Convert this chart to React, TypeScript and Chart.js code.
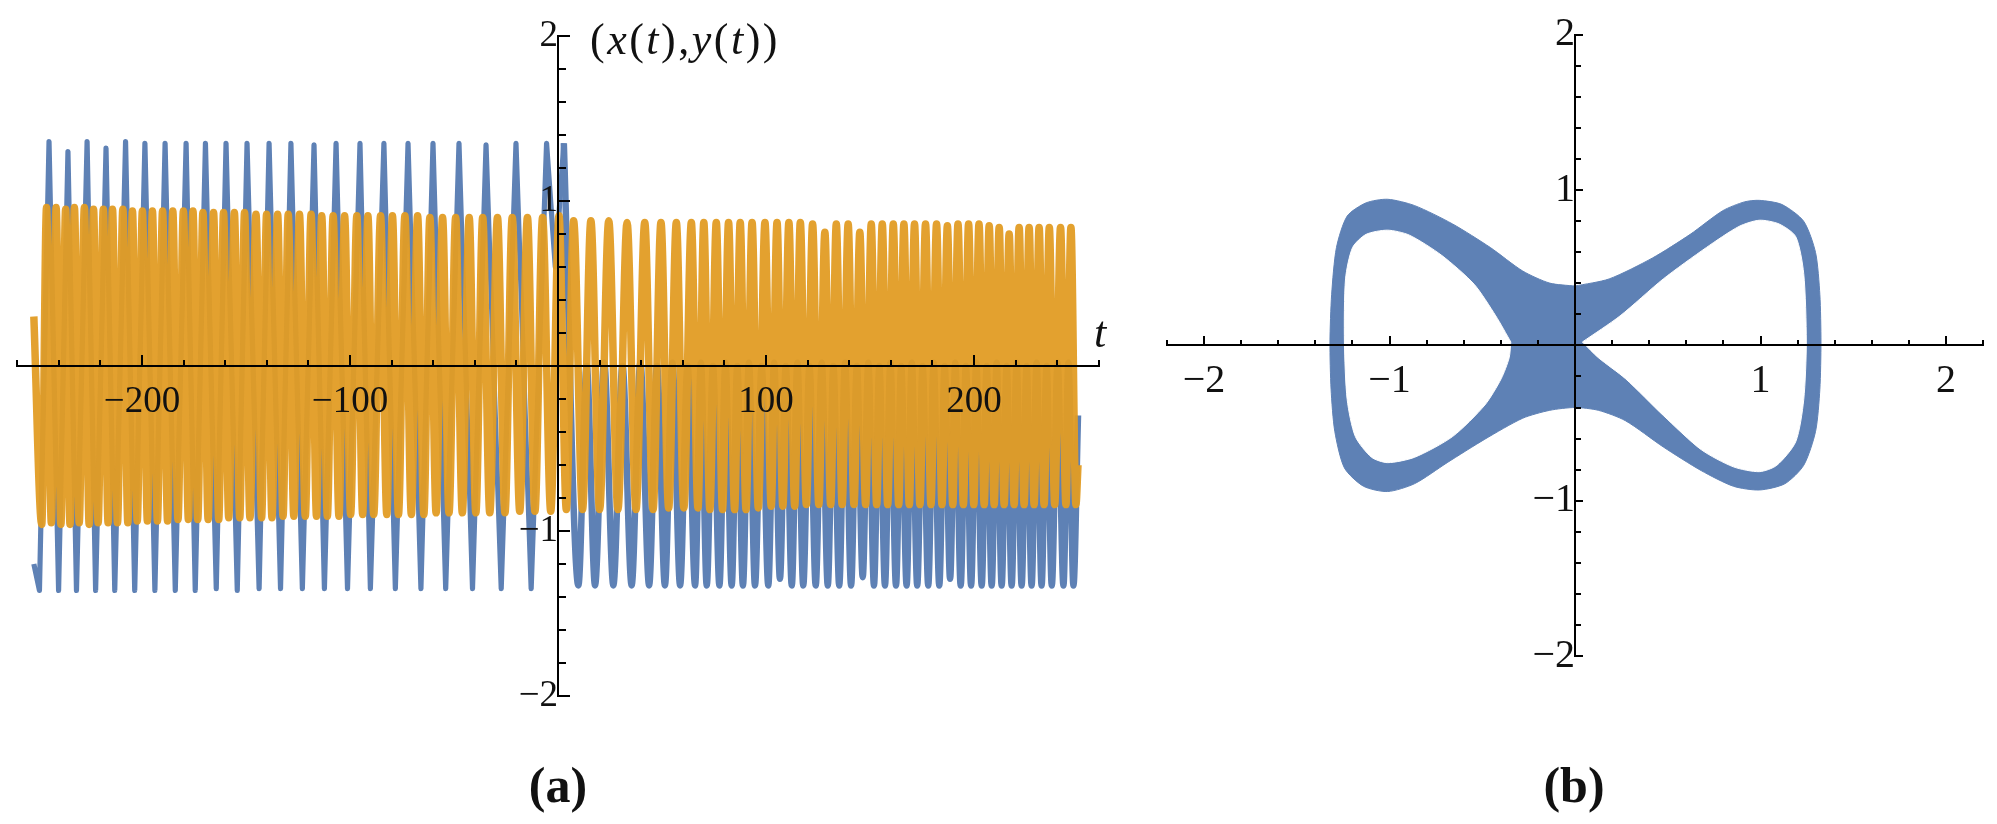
import React, { useEffect, useRef } from 'react';
import { Chart, registerables } from 'chart.js';

Chart.register(...registerables);

const BLUE = '#5e81b5';
const ORANGE = 'rgba(225, 156, 36, 0.95)';
const INK = '#111111';
const FONT = "'Liberation Serif', 'Times New Roman', serif";

// ---------------- Panel (a): x(t) (blue) extremes ----------------
const xNegT = [-252, -249.3, -244.7, -240.1, -235.6, -231.5, -226.4, -222.3, -217.3, -213.1, -207.9,
  -203.5, -198.6, -193.8, -188.9, -184.0, -178.8, -174.4, -169.5, -164.3, -159.6,
  -154.2, -149.5, -143.7, -138.9, -133.4, -128.4, -122.9, -117.3, -112.3, -106.7,
  -101.2, -95.2, -90.2, -83.7, -78.2, -72.1, -65.9, -60.1, -54.0, -47.6,
  -41.1, -34.6, -27.3, -20.2, -12.9, -5.5, -1.3, 2.8];
const xNegV = [-1.20, -1.36, 1.36, -1.36, 1.30, -1.36, 1.36, -1.36, 1.32, -1.36, 1.36,
  -1.36, 1.35, -1.36, 1.35, -1.36, 1.35, -1.36, 1.35, -1.35, 1.35,
  -1.36, 1.35, -1.35, 1.35, -1.35, 1.35, -1.35, 1.34, -1.35, 1.35,
  -1.35, 1.35, -1.35, 1.35, -1.35, 1.35, -1.35, 1.35, -1.35, 1.35,
  -1.35, 1.34, -1.35, 1.35, -1.35, 1.35, 0.60, 1.35];
const xPosT = [9.8, 13.8, 17.8, 22.2, 26.6, 31.0, 35.4, 39.6, 43.8, 47.6,
  51.4, 55.0, 58.7, 62.3, 65.9, 68.7, 71.5, 74.5, 77.6, 80.5,
  83.5, 86.2, 88.9, 91.8, 94.7, 97.9, 101.1, 103.9, 106.7, 109.5,
  112.4, 115.1, 117.9, 120.9, 123.9, 126.8, 129.7, 132.4, 135.2, 138.0,
  140.9, 143.7, 146.5, 149.2, 151.9, 154.5, 157.2, 159.8, 162.5, 165.0,
  167.6, 170.1, 172.7, 175.3, 178.0, 180.6, 183.3, 185.9, 188.5, 191.0,
  193.6, 196.1, 198.6, 201.1, 203.7, 206.1, 208.5, 210.9, 213.3, 215.7,
  218.1, 220.5, 222.9, 225.3, 227.7, 230.1, 232.5, 234.9, 237.4, 240.2,
  243.0, 245.4, 247.8, 250.0];
const xPosV = [-1.33, 0.0, -1.33, 0.02, -1.33, 0.0, -1.33, 0.02, -1.33, 0.0,
  -1.33, 0.02, -1.33, 0.0, -1.33, 0.02, -1.33, 0.0, -1.33, 0.02,
  -1.33, 0.0, -1.33, 0.02, -1.33, 0.0, -1.33, 0.02, -1.29, 0.0,
  -1.33, 0.02, -1.33, 0.0, -1.33, 0.02, -1.33, 0.0, -1.33, 0.02,
  -1.33, 0.0, -1.28, 0.02, -1.33, 0.0, -1.33, 0.02, -1.33, 0.0,
  -1.33, 0.02, -1.33, 0.0, -1.33, 0.02, -1.33, 0.0, -1.29, 0.02,
  -1.33, 0.0, -1.33, 0.02, -1.33, 0.0, -1.33, 0.02, -1.33, 0.0,
  -1.33, 0.02, -1.33, 0.0, -1.33, 0.02, -1.33, 0.0, -1.33, 0.02,
  -1.33, 0.02, -1.33, -0.30];

// ---------------- Panel (a): y(t) (orange) extremes ----------------
const yNegT = [-252,
  -248.2, -245.9, -243.6, -241.3, -239.0, -236.7, -234.6, -232.5, -230.2, -227.7,
  -225.4, -223.3, -221.1, -218.6, -216.3, -214.2, -211.8, -209.2, -206.8, -204.6,
  -202.3, -199.8, -197.4, -195.0, -192.6, -190.1, -187.7, -185.2, -182.7, -180.1,
  -177.7, -175.5, -173.2, -170.7, -168.2, -165.6, -163.1, -160.8, -158.3, -155.6,
  -153.0, -150.7, -148.1, -145.2, -142.5, -140.1, -137.5, -134.8, -132.2, -129.7,
  -127.0, -124.3, -121.5, -118.7, -116.1, -113.6, -110.9, -108.1, -105.3, -102.6,
  -99.7, -96.7, -93.9, -91.4, -88.6, -85.3, -82.3, -79.6, -76.7, -73.6,
  -70.5, -67.5, -64.5, -61.6, -58.6, -55.5, -52.4, -49.2, -46.0, -42.7,
  -39.5, -36.2, -32.8, -29.1, -25.5, -22.0, -18.4, -14.7, -11.1, -7.4,
  -3.5, 0.5, 4.0];
const yNegV = [0.30,
  -0.96, 0.96, -0.95, 0.96, -0.96, 0.95, -0.96, 0.96, -0.95, 0.96,
  -0.96, 0.95, -0.95, 0.95, -0.95, 0.95, -0.95, 0.95, -0.95, 0.94,
  -0.94, 0.94, -0.94, 0.94, -0.94, 0.94, -0.94, 0.94, -0.93, 0.94,
  -0.93, 0.94, -0.93, 0.93, -0.93, 0.93, -0.93, 0.93, -0.92, 0.93,
  -0.92, 0.93, -0.92, 0.92, -0.92, 0.92, -0.92, 0.92, -0.91, 0.92,
  -0.91, 0.92, -0.91, 0.92, -0.91, 0.91, -0.91, 0.91, -0.91, 0.91,
  -0.90, 0.91, -0.90, 0.91, -0.90, 0.91, -0.90, 0.91, -0.90, 0.91,
  -0.90, 0.91, -0.90, 0.90, -0.89, 0.90, -0.89, 0.90, -0.89, 0.90,
  -0.89, 0.90, -0.89, 0.90, -0.89, 0.90, -0.88, 0.90, -0.88, 0.90,
  -0.88, 0.91, -0.87];
const yPosT = [7.5, 11.8, 15.8, 20.0, 24.4, 28.8, 33.2, 37.5, 41.7, 45.7,
  49.5, 53.2, 56.9, 60.5, 64.1, 67.3, 70.1, 73.0, 76.1, 79.1,
  82.0, 84.9, 87.6, 90.4, 93.3, 96.3, 99.5, 102.5, 105.3, 108.1,
  111.0, 113.8, 116.5, 119.4, 122.4, 125.4, 128.3, 131.1, 133.8, 136.6,
  139.5, 142.3, 145.1, 147.9, 150.6, 153.2, 155.9, 158.5, 161.2, 163.8,
  166.3, 168.9, 171.4, 174.0, 176.7, 179.3, 182.0, 184.6, 187.2, 189.8,
  192.3, 194.9, 197.4, 199.9, 202.4, 204.9, 207.3, 209.7, 212.1, 214.5,
  216.9, 219.3, 221.7, 224.1, 226.5, 228.9, 231.3, 233.7, 236.2, 238.8,
  241.6, 244.2, 246.6, 249.0, 250.0];
const yPosV = [0.88, -0.87, 0.88, -0.87, 0.88, -0.87, 0.87, -0.87, 0.87, -0.87,
  0.87, -0.86, 0.87, -0.86, 0.87, -0.86, 0.87, -0.87, 0.87, -0.87,
  0.87, -0.87, 0.87, -0.87, 0.87, -0.86, 0.87, -0.85, 0.87, -0.85,
  0.87, -0.85, 0.87, -0.84, 0.86, -0.84, 0.81, -0.84, 0.86, -0.84,
  0.86, -0.84, 0.81, -0.84, 0.86, -0.84, 0.86, -0.84, 0.86, -0.84,
  0.86, -0.84, 0.86, -0.84, 0.86, -0.84, 0.86, -0.84, 0.85, -0.84,
  0.86, -0.84, 0.86, -0.84, 0.86, -0.84, 0.85, -0.84, 0.84, -0.84,
  0.80, -0.84, 0.84, -0.84, 0.84, -0.84, 0.84, -0.84, 0.84, -0.84,
  0.84, -0.84, 0.84, -0.84, -0.60];

// ---------------- Panel (a) axes ----------------
const aXMajorTicks = [-200, -100, 100, 200];
const aXMajorLabels = ['\u2212200', '\u2212100', '100', '200'];
const aXMinorTicks = [-260, -240, -220, -200, -180, -160, -140, -120, -100, -80, -60, -40, -20, 0,
  20, 40, 60, 80, 100, 120, 140, 160, 180, 200, 220, 240, 260];
const aYMajorTicks = [-2, -1, 1, 2];
const aYMajorLabels = ['\u22122', '\u22121', '1', '2'];
const aYMinorTicks = [-2, -1.8, -1.6, -1.4, -1.2, -1, -0.8, -0.6, -0.4, -0.2, 0,
  0.2, 0.4, 0.6, 0.8, 1, 1.2, 1.4, 1.6, 1.8, 2];

// ---------------- Panel (b): band of the (x, y) trajectory, boundaries ----------------
const outerX = [0, 0.184, 0.418, 0.621, 0.796, 0.913, 0.994, 1.116, 1.233, 1.297,
  1.32, 1.326, 1.32, 1.297, 1.233, 1.131, 0.994, 0.854, 0.68, 0.476,
  0.272, 0.126, 0, -0.136, -0.282, -0.486, -0.689, -0.864, -1.01, -1.14,
  -1.243, -1.295, -1.315, -1.321, -1.312, -1.286, -1.228, -1.126, -1.01, -0.864,
  -0.66, -0.456, -0.282, -0.136, 0];
const outerY = [0.382, 0.428, 0.563, 0.715, 0.867, 0.924, 0.934, 0.907, 0.799, 0.597,
  0.326, 0.022, -0.282, -0.553, -0.772, -0.891, -0.931, -0.907, -0.806, -0.654,
  -0.485, -0.418, -0.4, -0.418, -0.469, -0.604, -0.755, -0.89, -0.941, -0.907,
  -0.789, -0.553, -0.282, 0.022, 0.326, 0.63, 0.833, 0.918, 0.941, 0.9,
  0.782, 0.63, 0.479, 0.401, 0.382];
const leftHoleX = [-0.346, -0.427, -0.544, -0.719, -0.893, -1.01, -1.126, -1.199, -1.237, -1.243,
  -1.228, -1.184, -1.097, -1.01, -0.864, -0.66, -0.486, -0.398, -0.355, -0.346];
const leftHoleY = [0.022, 0.19, 0.394, 0.58, 0.71, 0.742, 0.715, 0.63, 0.428, 0.022,
  -0.35, -0.587, -0.72, -0.755, -0.72, -0.587, -0.384, -0.215, -0.08, 0.022];
const rightHoleX = [0.04, 0.243, 0.476, 0.709, 0.884, 0.994, 1.1, 1.19, 1.233, 1.247,
  1.233, 1.19, 1.088, 0.994, 0.854, 0.68, 0.476, 0.272, 0.126, 0.04];
const rightHoleY = [0.022, 0.19, 0.428, 0.631, 0.766, 0.806, 0.782, 0.7, 0.462, 0.022,
  -0.35, -0.62, -0.772, -0.813, -0.782, -0.671, -0.451, -0.214, -0.079, 0.022];

// ---------------- Panel (b) axes ----------------
const bXMajorTicks = [-2, -1, 1, 2];
const bXMajorLabels = ['\u22122', '\u22121', '1', '2'];
const bXMinorTicks = [-2.2, -2, -1.8, -1.6, -1.4, -1.2, -1, -0.8, -0.6, -0.4, -0.2, 0,
  0.2, 0.4, 0.6, 0.8, 1, 1.2, 1.4, 1.6, 1.8, 2, 2.2];
const bYMajorTicks = [-2, -1, 1, 2];
const bYMajorLabels = ['\u22122', '\u22121', '1', '2'];
const bYMinorTicks = [-2, -1.8, -1.6, -1.4, -1.2, -1, -0.8, -0.6, -0.4, -0.2, 0,
  0.2, 0.4, 0.6, 0.8, 1, 1.2, 1.4, 1.6, 1.8, 2];

const toPoints = (xs: number[], ys: number[]) => xs.map((x, i) => ({ x, y: ys[i] }));

type AxisOpts = {
  axis: 'x' | 'y';
  cross: string;
  min: number;
  max: number;
  ticks: number[];
  labels: string[];
  tickLen: number;
  fontSize: number;
  padding: number;
  border: boolean;
};

function makeAxis(o: AxisOpts): any {
  return {
    type: 'linear',
    axis: o.axis,
    min: o.min,
    max: o.max,
    position: { [o.cross]: 0 },
    afterBuildTicks: (s: any) => {
      s.ticks = o.ticks.map((v) => ({ value: v }));
    },
    afterFit: (s: any) => {
      s.paddingLeft = 0;
      s.paddingRight = 0;
      s.paddingTop = 0;
      s.paddingBottom = 0;
    },
    grid: {
      display: true,
      drawOnChartArea: false,
      drawTicks: true,
      tickLength: -o.tickLen,
      tickWidth: 2,
      tickColor: '#000',
      lineWidth: 2,
      color: '#000',
      z: 1,
    },
    border: { display: o.border, color: '#000', width: 2, z: 1 },
    ticks: {
      autoSkip: false,
      maxRotation: 0,
      minRotation: 0,
      padding: o.padding,
      color: INK,
      font: { family: FONT, size: o.fontSize, lineHeight: 1 },
      callback: (_v: any, i: number) => (o.labels[i] !== undefined ? o.labels[i] : ''),
      z: 1,
    },
  };
}

const lineCommon = {
  showLine: true,
  pointRadius: 0,
  pointHoverRadius: 0,
  fill: false,
  borderJoinStyle: 'round' as const,
};

const shapeCommon = {
  showLine: true,
  pointRadius: 0,
  pointHoverRadius: 0,
  borderWidth: 1,
  fill: 'shape' as const,
  tension: 0.25,
};

export default function App() {
  const leftRef = useRef<HTMLCanvasElement | null>(null);
  const rightRef = useRef<HTMLCanvasElement | null>(null);

  useEffect(() => {
    if (!leftRef.current || !rightRef.current) return;
    const lastNeg = xNegT.length - 1;
    const left = new Chart(leftRef.current, {
      type: 'scatter',
      data: {
        datasets: [
          {
            label: 'y(t)',
            data: toPoints([...yNegT, ...yPosT], [...yNegV, ...yPosV]),
            borderColor: ORANGE,
            backgroundColor: ORANGE,
            borderWidth: 7.5,
            cubicInterpolationMode: 'monotone',
            order: 0,
            ...lineCommon,
          },
          {
            label: 'x(t), t < 0',
            data: toPoints(xNegT, xNegV),
            borderColor: BLUE,
            backgroundColor: BLUE,
            borderWidth: 5.2,
            tension: 0,
            order: 1,
            ...lineCommon,
          },
          {
            label: 'x(t), t > 0',
            data: toPoints([xNegT[lastNeg], ...xPosT], [xNegV[lastNeg], ...xPosV]),
            borderColor: BLUE,
            backgroundColor: BLUE,
            borderWidth: 6.5,
            cubicInterpolationMode: 'monotone',
            order: 1,
            ...lineCommon,
          },
        ],
      },
      options: {
        animation: false,
        responsive: false,
        maintainAspectRatio: false,
        events: [],
        layout: { padding: { left: 17.2, right: 51.2, top: 36, bottom: 64 } },
        plugins: { legend: { display: false }, tooltip: { enabled: false } },
        scales: {
          x: makeAxis({ axis: 'x', cross: 'y', min: -260, max: 260, ticks: aXMajorTicks, labels: aXMajorLabels, tickLen: 12, fontSize: 37, padding: 29.5, border: true }),
          xm: makeAxis({ axis: 'x', cross: 'y', min: -260, max: 260, ticks: aXMinorTicks, labels: [], tickLen: 6, fontSize: 37, padding: 29.5, border: false }),
          y: makeAxis({ axis: 'y', cross: 'x', min: -2, max: 2, ticks: aYMajorTicks, labels: aYMajorLabels, tickLen: 13, fontSize: 37, padding: 24, border: true }),
          ym: makeAxis({ axis: 'y', cross: 'x', min: -2, max: 2, ticks: aYMinorTicks, labels: [], tickLen: 8, fontSize: 37, padding: 24, border: false }),
        },
      } as any,
    });

    const right = new Chart(rightRef.current, {
      type: 'scatter',
      data: {
        datasets: [
          {
            label: 'left hole',
            data: toPoints(leftHoleX, leftHoleY),
            borderColor: '#ffffff',
            backgroundColor: '#ffffff',
            order: 0,
            ...shapeCommon,
          },
          {
            label: 'right hole',
            data: toPoints(rightHoleX, rightHoleY),
            borderColor: '#ffffff',
            backgroundColor: '#ffffff',
            order: 0,
            ...shapeCommon,
          },
          {
            label: '(x(t), y(t))',
            data: toPoints(outerX, outerY),
            borderColor: BLUE,
            backgroundColor: BLUE,
            order: 1,
            ...shapeCommon,
          },
        ],
      },
      options: {
        animation: false,
        responsive: false,
        maintainAspectRatio: false,
        events: [],
        layout: { padding: { left: 16.9, right: 13.9, top: 34.8, bottom: 104 } },
        plugins: { legend: { display: false }, tooltip: { enabled: false } },
        scales: {
          x: makeAxis({ axis: 'x', cross: 'y', min: -2.2, max: 2.2, ticks: bXMajorTicks, labels: bXMajorLabels, tickLen: 10, fontSize: 40, padding: 26, border: true }),
          xm: makeAxis({ axis: 'x', cross: 'y', min: -2.2, max: 2.2, ticks: bXMinorTicks, labels: [], tickLen: 5, fontSize: 40, padding: 26, border: false }),
          y: makeAxis({ axis: 'y', cross: 'x', min: -2, max: 2, ticks: bYMajorTicks, labels: bYMajorLabels, tickLen: 9, fontSize: 40, padding: 25, border: true }),
          ym: makeAxis({ axis: 'y', cross: 'x', min: -2, max: 2, ticks: bYMinorTicks, labels: [], tickLen: 6, fontSize: 40, padding: 25, border: false }),
        },
      } as any,
    });

    return () => {
      left.destroy();
      right.destroy();
    };
  }, []);

  const serif: React.CSSProperties = { fontFamily: FONT, color: INK, position: 'absolute', whiteSpace: 'nowrap' };

  return (
    <div style={{ position: 'fixed', left: 0, top: 0, width: 1997, height: 824, background: '#ffffff', overflow: 'hidden' }}>
      <canvas ref={leftRef} width={1150} height={760} style={{ position: 'absolute', left: 0, top: 0, width: 1150, height: 760 }} />
      <canvas ref={rightRef} width={847} height={760} style={{ position: 'absolute', left: 1150, top: 0, width: 847, height: 760 }} />
      <div style={{ ...serif, left: 590, top: 18, fontSize: 44, lineHeight: '44px', letterSpacing: 2.5 }}>
        (<i>x</i>(<i>t</i>),<i>y</i>(<i>t</i>))
      </div>
      <div style={{ ...serif, left: 1094, top: 311, fontSize: 44, lineHeight: '44px' }}>
        <i>t</i>
      </div>
      <div style={{ ...serif, left: 458, width: 200, textAlign: 'center', top: 760, fontSize: 50, lineHeight: '50px', fontWeight: 'bold' }}>
        (a)
      </div>
      <div style={{ ...serif, left: 1474, width: 200, textAlign: 'center', top: 760, fontSize: 50, lineHeight: '50px', fontWeight: 'bold' }}>
        (b)
      </div>
    </div>
  );
}
